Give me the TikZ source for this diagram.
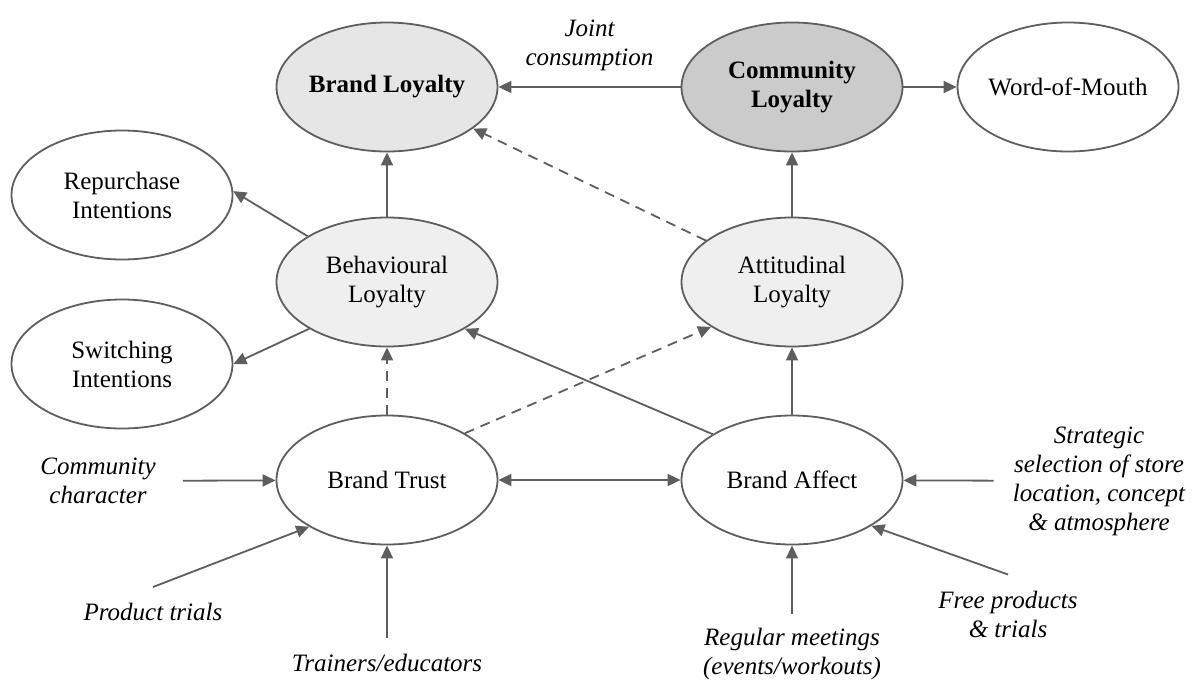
\documentclass[tikz,border=0pt]{standalone}
\usepackage{fontspec}
\setmainfont{Liberation Serif}
\usepackage{tikz}
\usepackage{xcolor}
\usetikzlibrary{shapes.geometric, arrows.meta}
\definecolor{customcolor1}{HTML}{E6E6E6}
\definecolor{customcolor2}{HTML}{EFEFEF}
\definecolor{customcolor3}{HTML}{CBCBCB}
\definecolor{customcolor4}{HTML}{5E5E5E}

\newcommand{\nodefont}{\fontsize{25pt}{29pt}\selectfont}

\tikzset{
    construct/.style = {ellipse, draw = customcolor4, line width = 1.8pt, fill = white, minimum width = 221pt, minimum height = 129pt, inner xsep = -4pt, inner ysep = 0pt, align = center, font = \nodefont},
    driver/.style = {inner sep = 0pt, align = center, text = black, font = \nodefont\itshape},
    link/.style = {->, > = {Triangle[length = 13pt, width = 12pt]}, line width = 1.8pt, color = customcolor4},
    weaklink/.style = {link, dash pattern = on 10pt off 7pt}
}

\begin{document}
\begin{tikzpicture}
        \useasboundingbox (0pt, 0pt) rectangle (1193pt, -681pt);

        % Nodes
        \node [construct, fill = customcolor1, font = \nodefont\bfseries] (bl) at (387pt, -87pt) {Brand Loyalty};
        \node [construct, fill = customcolor3, font = \nodefont\bfseries] (cl) at (792pt, -87pt) {Community\\Loyalty};
        \node [construct] (wom) at (1068pt, -87pt) {Word-of-Mouth};
        \node [construct] (ri) at (122pt, -195pt) {Repurchase\\Intentions};
        \node [construct, fill = customcolor2] (bhl) at (387pt, -282pt) {Behavioural\\Loyalty};
        \node [construct, fill = customcolor2] (atl) at (792pt, -282pt) {Attitudinal\\Loyalty};
        \node [construct] (si) at (122pt, -364pt) {Switching\\Intentions};
        \node [construct] (bt) at (387pt, -480pt) {Brand Trust};
        \node [construct] (ba) at (792pt, -480pt) {Brand Affect};

        % Drivers
        \node [driver] (cc) at (98pt, -481pt) {Community\\character};
        \node [driver] (ptr) at (153pt, -612pt) {Product trials};
        \node [driver] (tre) at (387pt, -663pt) {Trainers/educators};
        \node [driver] (rm) at (792pt, -654pt) {Regular meetings\\(events/workouts)};
        \node [driver] (fp) at (1008pt, -614pt) {Free products\\\& trials};
        \node [driver] (ss) at (1099pt, -481pt) {Strategic\\selection of store\\location, concept\\\& atmosphere};

        % Draw the links
        \draw [link] (cl) -- node [driver, above = 15pt] (jc) {Joint\\consumption} (bl);
        \draw [link] (cl) -- (wom);
        \draw [link] (bhl) -- (bl);
        \draw [link] (atl) -- (cl);
        \draw [weaklink] (atl) -- (bl);
        \draw [link] (bhl.150) -- (ri.2);
        \draw [link] (bhl.211) -- (si.east);
        \draw [weaklink] (bt) -- (bhl);
        \draw [weaklink] (bt.31) -- (atl.209);
        \draw [link] (ba) -- (atl);
        \draw [link] (ba.150) -- (bhl.329);
        \draw [link, <->] (bt) -- (ba);

        % Driver links
        \draw [link, shorten <= 27pt] (cc) -- (bt);
        \draw [link] ([yshift = 16pt] ptr.north) -- (bt.211);
        \draw [link] ([yshift = 16pt] tre.north) -- (bt);
        \draw [link] ([yshift = 14pt] rm.north) -- (ba);
        \draw [link] ([yshift = 16pt] fp.north) -- (ba.330);
        \draw [link, shorten <= 19pt] (ss) -- (ba);

    \end{tikzpicture}
\end{document}
